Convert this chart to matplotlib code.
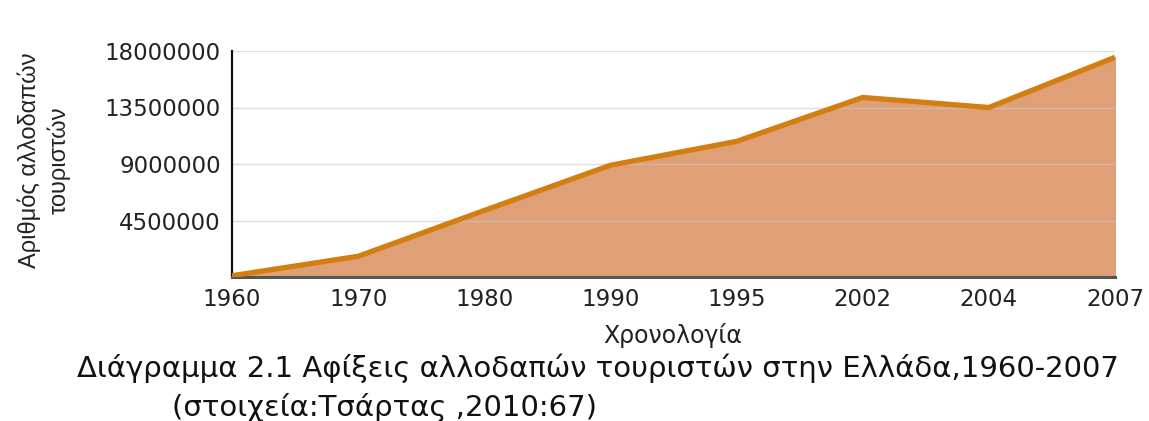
import matplotlib
matplotlib.use("Agg")
import matplotlib.pyplot as plt

years = ["1960", "1970", "1980", "1990", "1995", "2002", "2004", "2007"]
arrivals = [100000, 1650000, 5300000, 8900000, 10800000, 14300000, 13500000, 17500000]
yticks = [4500000, 9000000, 13500000, 18000000]

fig = plt.figure(figsize=(11.49, 4.21), dpi=100)
ax = fig.add_axes([232/1149, 1-277/421, (1115-232)/1149, (277-51)/421])
x = list(range(len(years)))
ax.fill_between(x, arrivals, 0, color="#E0A077", zorder=1)
ax.plot(x, arrivals, color="#D27E10", lw=3.8, solid_capstyle="butt", zorder=3)
for t in yticks:
    ax.axhline(t, color="#C8C8C8", lw=1.0, alpha=0.6, zorder=2)
ax.set_xlim(0, len(years)-1)
ax.set_ylim(0, 18000000)
ax.set_xticks(x)
ax.set_xticklabels(years)
ax.set_yticks(yticks)
ax.set_yticklabels([str(t) for t in yticks])
ax.tick_params(axis="both", length=0, labelsize=16.5, colors="#222222")
ax.tick_params(axis="y", pad=8)
ax.tick_params(axis="x", pad=8)
for lab in ax.get_xticklabels() + ax.get_yticklabels():
    lab.set_family("DejaVu Sans")
for s in ["top", "right"]:
    ax.spines[s].set_visible(False)
ax.spines["left"].set_color("#111111")
ax.spines["left"].set_linewidth(1.6)
ax.spines["bottom"].set_color("#555555")
ax.spines["bottom"].set_linewidth(2.2)

fig.text(44/1149, 1-160/421, "Αριθμός αλλοδαπών\nτουριστών", rotation=90,
         ha="center", va="center", fontsize=17, family="Liberation Sans",
         color="#222222", linespacing=1.3)
fig.text(673/1149, 1-336/421, "Χρονολογία", ha="center", va="center",
         fontsize=17, family="DejaVu Sans", color="#222222")
fig.text(598/1149, 1-368/421, "Διάγραμμα 2.1 Αφίξεις αλλοδαπών τουριστών στην Ελλάδα,1960-2007",
         ha="center", va="center", fontsize=21, family="DejaVu Sans", color="#111111")
fig.text(172/1149, 1-407/421, "(στοιχεία:Τσάρτας ,2010:67)",
         ha="left", va="center", fontsize=21, family="DejaVu Sans", color="#111111")
fig.savefig("out.png", dpi=100, facecolor="white")
